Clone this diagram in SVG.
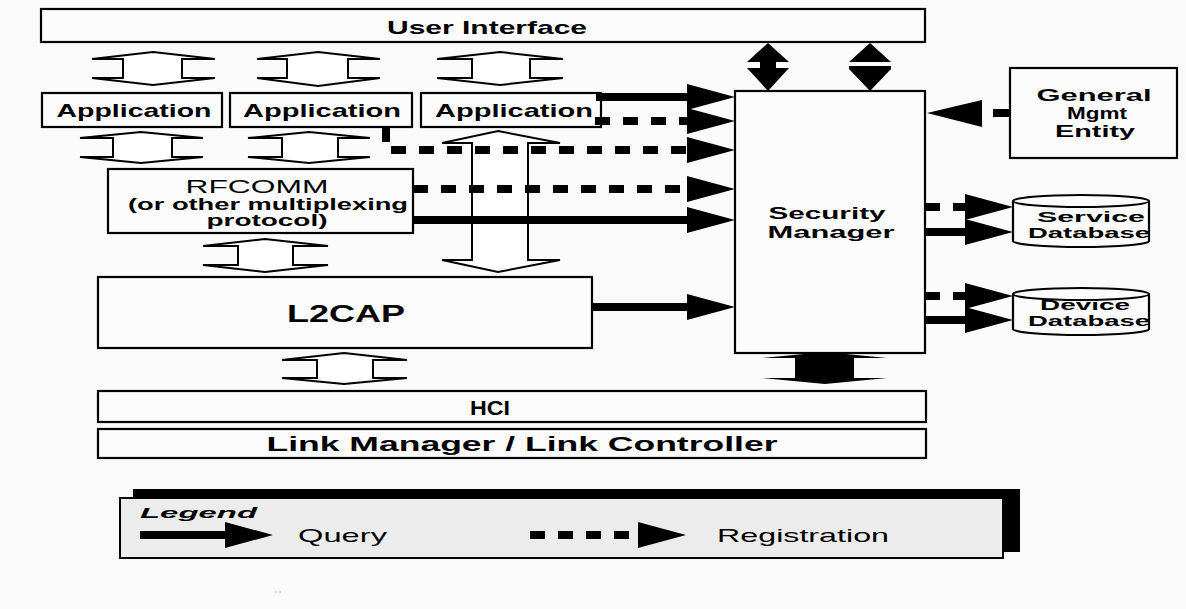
<svg xmlns="http://www.w3.org/2000/svg" width="1186" height="609" viewBox="0 0 1186 609">
  <style>
    .box { fill: #fcfcfc; stroke: #000; stroke-width: 2.2; }
    .t { font-family: "Liberation Sans", Arial, sans-serif; fill: #000; text-anchor: middle; }
    .s { text-anchor: start; }
    .b { font-weight: bold; }
    .hollow { fill: #fff; stroke: #000; stroke-width: 2; stroke-linejoin: miter; }
    .solid { fill: none; stroke: #000; stroke-width: 8; }
    .dash { fill: none; stroke: #000; stroke-width: 8; stroke-dasharray: 15 13; }
    .head { fill: #000; }
  </style>
  <defs>
    <marker id="arrowhead" markerUnits="userSpaceOnUse" markerWidth="48" markerHeight="26" refX="0" refY="13" orient="auto" overflow="visible">
      <path d="M0,0 L48,13 L0,26 Z" fill="#000"/>
    </marker>
  </defs>

  <rect width="1186" height="609" fill="#fafafa"/>

  <!-- protocol stack boxes -->
  <g id="user-interface">
    <rect class="box" x="41" y="9" width="884" height="33"/>
    <text class="t b" x="487" y="34" font-size="19" textLength="200" lengthAdjust="spacingAndGlyphs">User Interface</text>
  </g>
  <g id="application-1">
    <rect class="box" x="42" y="93" width="180" height="34"/>
    <text class="t b" x="134" y="117" font-size="19" textLength="155" lengthAdjust="spacingAndGlyphs">Application</text>
  </g>
  <g id="application-2">
    <rect class="box" x="230" y="93" width="182" height="34"/>
    <text class="t b" x="322" y="117" font-size="19" textLength="158" lengthAdjust="spacingAndGlyphs">Application</text>
  </g>
  <g id="application-3">
    <rect class="box" x="421" y="93" width="180" height="34"/>
    <text class="t b" x="514" y="117" font-size="19" textLength="158" lengthAdjust="spacingAndGlyphs">Application</text>
  </g>
  <g id="rfcomm">
    <rect class="box" x="108" y="169" width="305" height="64"/>
    <text class="t" x="257" y="193" font-size="18" textLength="143" lengthAdjust="spacingAndGlyphs">RFCOMM</text>
    <text class="t b" x="268" y="210" font-size="16" textLength="280" lengthAdjust="spacingAndGlyphs">(or other multiplexing</text>
    <text class="t b" x="267" y="226" font-size="16" textLength="121" lengthAdjust="spacingAndGlyphs">protocol)</text>
  </g>
  <g id="l2cap">
    <rect class="box" x="98" y="277" width="494" height="71"/>
    <text class="t b" x="346" y="322" font-size="24" textLength="118" lengthAdjust="spacingAndGlyphs">L2CAP</text>
  </g>
  <g id="hci">
    <rect class="box" x="98" y="391" width="828" height="31"/>
    <text class="t b" x="490" y="415" font-size="21" textLength="40" lengthAdjust="spacingAndGlyphs">HCI</text>
  </g>
  <g id="link-manager">
    <rect class="box" x="98" y="429" width="828" height="29"/>
    <text class="t b" x="522" y="451" font-size="21" textLength="511" lengthAdjust="spacingAndGlyphs">Link Manager / Link Controller</text>
  </g>
  <g id="security-manager">
    <rect class="box" x="735" y="91" width="190" height="262"/>
    <text class="t b" x="827" y="219" font-size="17" textLength="117" lengthAdjust="spacingAndGlyphs">Security</text>
    <text class="t b" x="831" y="238" font-size="17" textLength="127" lengthAdjust="spacingAndGlyphs">Manager</text>
  </g>
  <g id="general-mgmt-entity">
    <rect class="box" x="1010" y="68" width="167" height="90"/>
    <text class="t b" x="1094" y="101" font-size="17" textLength="115" lengthAdjust="spacingAndGlyphs">General</text>
    <text class="t b" x="1097" y="119" font-size="17" textLength="60" lengthAdjust="spacingAndGlyphs">Mgmt</text>
    <text class="t b" x="1095" y="137" font-size="17" textLength="80" lengthAdjust="spacingAndGlyphs">Entity</text>
  </g>
  <g id="service-database">
    <path class="box" d="M1013,201 A68,6 0 0 1 1149,201 L1149,241 A68,6 0 0 1 1013,241 Z"/>
    <path d="M1013,201 A68,6 0 0 0 1149,201" fill="none" stroke="#000" stroke-width="2"/>
    <text class="t b" x="1091" y="222" font-size="14" textLength="108" lengthAdjust="spacingAndGlyphs">Service</text>
    <text class="t b" x="1089" y="238" font-size="14" textLength="122" lengthAdjust="spacingAndGlyphs">Database</text>
  </g>
  <g id="device-database">
    <path class="box" d="M1013,294 A68,6 0 0 1 1149,294 L1149,329 A68,6 0 0 1 1013,329 Z"/>
    <path d="M1013,294 A68,6 0 0 0 1149,294" fill="none" stroke="#000" stroke-width="2"/>
    <text class="t b" x="1085" y="310" font-size="14" textLength="90" lengthAdjust="spacingAndGlyphs">Device</text>
    <text class="t b" x="1089" y="326" font-size="14" textLength="122" lengthAdjust="spacingAndGlyphs">Database</text>
  </g>

  <!-- connectors -->
  <g id="connectors">
    <!-- hollow data-path arrows between layers -->
    <polygon class="hollow" points="92,59 153,52 215,59 182,59 182,78 215,78 153,85 92,78 123,78 123,59"/>
    <polygon class="hollow" points="257,59 318,52 380,59 348,59 348,78 380,78 318,86 257,78 287,78 287,59"/>
    <polygon class="hollow" points="437,59 500,52 563,59 530,59 530,78 563,78 500,85 437,78 472,78 472,59"/>
    <polygon class="hollow" points="80,138 141,132 203,138 172,138 172,157 203,157 141,163 80,157 113,157 113,138"/>
    <polygon class="hollow" points="248,138 309,132 370,138 338,138 338,157 370,157 309,163 248,157 282,157 282,138"/>
    <polygon class="hollow" points="442,143 498,131 560,143 528,143 528,260 560,260 498,272 442,260 472,260 472,143"/>
    <polygon class="hollow" points="203,246 265,239 328,246 293,246 293,265 328,265 265,272 203,265 238,265 238,246"/>
    <polygon class="hollow" points="282,360 344,353 407,360 373,360 373,378 407,378 344,384 282,378 317,378 317,360"/>
    <!-- Security Manager to HCI -->
    <polygon class="head" points="762,358 825,352 887,358 854,358 854,378 887,378 825,384 762,378 795,378 795,358"/>

    <!-- User Interface to Security Manager -->
    <polygon class="head" points="768,43 789,62 776,62 776,68 789,68 768,91 747,68 760,68 760,62 747,62"/>
    <polygon class="head" points="870,43 891,62 849,62"/>
    <polygon class="head" points="849,66 891,66 891,69 870,91 849,69"/>

    <!-- into Security Manager -->
    <path class="solid" d="M596,97 H687" marker-end="url(#arrowhead)"/>
    <path class="dash" d="M595,121 H687" marker-end="url(#arrowhead)"/>
    <path class="dash" d="M386,127 V150 H687" marker-end="url(#arrowhead)"/>
    <path class="dash" d="M413,189 H687" marker-end="url(#arrowhead)"/>
    <path class="solid" d="M413,220 H687" marker-end="url(#arrowhead)"/>
    <path class="solid" d="M592,307 H687" marker-end="url(#arrowhead)"/>

    <!-- General Mgmt Entity to Security Manager -->
    <path d="M1010,113 H993" stroke="#000" stroke-width="8"/>
    <polygon class="head" points="982,100 927,113 982,127"/>

    <!-- Security Manager to databases -->
    <path class="dash" d="M925,207 H965" stroke-dasharray="15 12" marker-end="url(#arrowhead)"/>
    <path class="solid" d="M925,232 H965" marker-end="url(#arrowhead)"/>
    <path class="dash" d="M925,296 H965" stroke-dasharray="15 12" marker-end="url(#arrowhead)"/>
    <path class="solid" d="M925,320 H965" marker-end="url(#arrowhead)"/>
  </g>

  <!-- legend -->
  <g id="legend">
    <rect x="133" y="489" width="887" height="63" fill="#000"/>
    <rect x="120" y="498" width="883" height="60" fill="#ececec" stroke="#000" stroke-width="2"/>
    <text class="t s b" x="140" y="518" font-size="15" font-style="italic" textLength="117" lengthAdjust="spacingAndGlyphs">Legend</text>
    <path class="solid" d="M140,535 H225" marker-end="url(#arrowhead)"/>
    <text class="t s" x="298" y="542" font-size="19" textLength="89" lengthAdjust="spacingAndGlyphs">Query</text>
    <path class="dash" d="M530,535 H638" stroke-dasharray="16 11" marker-end="url(#arrowhead)"/>
    <text class="t s" x="717" y="542" font-size="19" textLength="172" lengthAdjust="spacingAndGlyphs">Registration</text>
  </g>

  <circle cx="276" cy="592" r="0.8" fill="#aaa"/>
  <circle cx="280" cy="592" r="0.8" fill="#aaa"/>
</svg>
